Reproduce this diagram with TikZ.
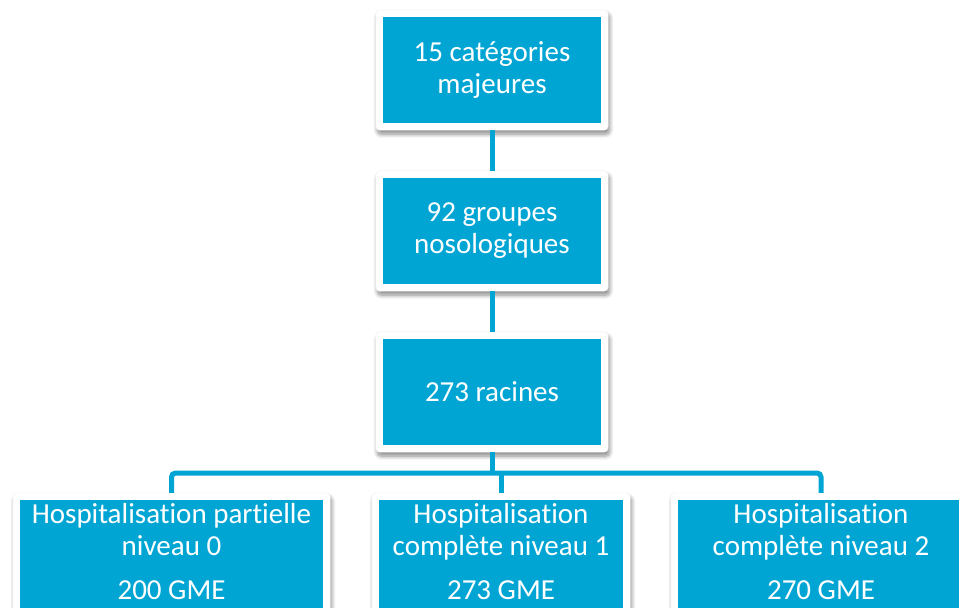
\documentclass[tikz,border=0pt]{standalone}
\usepackage{fontspec}
\setmainfont{Carlito}[Ligatures=CommonOff]
\usetikzlibrary{backgrounds,fit,shadows.blur}
\definecolor{cyanb}{RGB}{0,165,212}
\begin{document}
\begin{tikzpicture}[x=1pt,y=-1pt,
  box/.style={fill=cyanb, draw=none, inner sep=0pt, text=white, align=center,
    font=\fontsize{29}{32}\selectfont},
  lbl/.style={text=white, align=center, inner sep=0pt, font=\fontsize{29}{32}\selectfont},
  frame/.style={fill=white, draw=black!6, line width=0.4pt, rounded corners=4pt, inner sep=7pt,
    blur shadow={shadow xshift=1.5pt, shadow yshift=-4pt, shadow blur steps=8, shadow opacity=45, shadow blur radius=4pt}},
  link/.style={draw=cyanb, line width=5pt},
  bus/.style={draw=cyanb, line width=5pt, rounded corners=4pt}]
\useasboundingbox (0,0) rectangle (959,608);
\clip (0,0) rectangle (959,608);

\node[box, minimum width=218pt, minimum height=106pt] (a) at (492,70) {15 catégories\\majeures};
\node[box, minimum width=218pt, minimum height=106pt] (b) at (492,231) {92 groupes\\nosologiques};
\node[box, minimum width=218pt, minimum height=106pt] (c) at (492,392) {273 racines};

\node[box, minimum width=303pt, minimum height=140pt, anchor=north] (l) at (171.5,500) {};
\node[box, minimum width=244pt, minimum height=140pt, anchor=north] (m) at (501,500) {};
\node[box, minimum width=286pt, minimum height=140pt, anchor=north] (r) at (821,500) {};

\node[lbl, anchor=north] (lt) at ([yshift=-3pt]l.north) {Hospitalisation partielle\\niveau 0\\[12pt]200 GME};
\node[lbl, anchor=north] (mt) at ([yshift=-3pt]m.north) {Hospitalisation\\complète niveau 1\\[12pt]273 GME};
\node[lbl, anchor=north] (rt) at ([yshift=-3pt]r.north) {Hospitalisation\\complète niveau 2\\[12pt]270 GME};

\begin{scope}[on background layer]
  \node[frame, fit=(a)] (fa) {};
  \node[frame, fit=(b)] (fb) {};
  \node[frame, fit=(c)] (fc) {};
  \node[frame, fit=(l)] (fl) {};
  \node[frame, fit=(m)] (fm) {};
  \node[frame, fit=(r)] (fr) {};
  \coordinate (busc) at (492,473);
  \coordinate (busm) at (501,473);
  \draw[link] (fa.south) -- (fb.north);
  \draw[link] (fb.south) -- (fc.north);
  \draw[link] (fc.south) -- (busc);
  \draw[bus] (fl.north) |- (busc) -| (fr.north);
  \draw[link] (busm) -- (fm.north);
\end{scope}
\end{tikzpicture}
\end{document}
